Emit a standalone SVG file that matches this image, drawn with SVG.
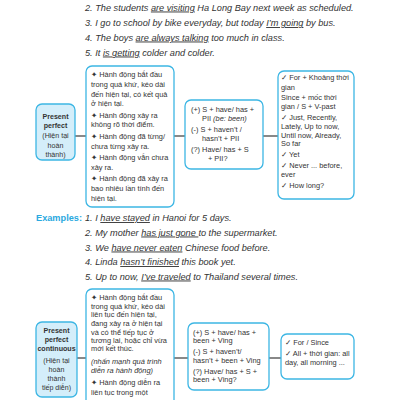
<svg xmlns="http://www.w3.org/2000/svg" width="400" height="400" viewBox="0 0 400 400">
<style>
.bg{fill:#ffffff}
.box{fill:#ffffff;stroke:#3cb6e4;stroke-width:1.3}
.lbl{fill:#d4eefa;stroke:#3cb6e4;stroke-width:1.3}
.t{font-family:"Liberation Sans","DejaVu Sans",sans-serif;font-size:7.4px;fill:#333}
.tc{font-family:"Liberation Sans","DejaVu Sans",sans-serif;font-size:7.1px;fill:#333;text-anchor:middle}
.b{font-weight:bold}
.i{font-style:italic}
.ex{font-family:"Liberation Sans","DejaVu Sans",sans-serif;font-size:9.2px;font-style:italic;fill:#333}
.u{text-decoration:underline}
.exl{font-family:"Liberation Sans","DejaVu Sans",sans-serif;font-size:9.2px;font-weight:bold;fill:#2aa9e0}
.con{stroke:#555;stroke-width:1.4;fill:none}
</style>
<rect class="bg" x="0" y="0" width="400" height="400"/>

<g id="examples-top">
<text class="ex" x="85" y="10.5">2. The students <tspan class="u">are visiting</tspan> Ha Long Bay next week as scheduled.</text>
<text class="ex" x="85" y="26">3. I go to school by bike everyday, but today <tspan class="u">I’m going</tspan> by bus.</text>
<text class="ex" x="85" y="40.5">4. The boys <tspan class="u">are always talking</tspan> too much in class.</text>
<text class="ex" x="85" y="55.5">5. It <tspan class="u">is getting</tspan> colder and colder.</text>
</g>

<g id="connectors">
<line class="con" x1="75" y1="136" x2="86" y2="136"/>
<line class="con" x1="174" y1="136" x2="185" y2="136"/>
<line class="con" x1="263" y1="136" x2="278" y2="136"/>
<line class="con" x1="77" y1="358" x2="86" y2="358"/>
<line class="con" x1="174" y1="358" x2="188" y2="358"/>
<line class="con" x1="269" y1="358" x2="281" y2="358"/>
</g>

<g id="pp-label">
<rect class="lbl" x="36" y="104" width="39" height="56" rx="6"/>
<text class="tc b" x="55.5" y="118.5">Present</text>
<text class="tc b" x="55.5" y="127.5">perfect</text>
<text class="tc" x="55.5" y="137.5">(Hiện tại</text>
<text class="tc" x="55.5" y="147.5">hoàn</text>
<text class="tc" x="55.5" y="156.5">thành)</text>
</g>

<g id="pp-use">
<rect class="box" x="86" y="66" width="88" height="141" rx="6"/>
<text class="t" x="91">
<tspan x="91" y="76.5">✦ Hành động bắt đầu</tspan>
<tspan x="91" y="86.5">trong quá khứ, kéo dài</tspan>
<tspan x="91" y="96.5">đến hiện tại, có kết quả</tspan>
<tspan x="91" y="105.5">ở hiện tại.</tspan>
<tspan x="91" y="117.5">✦ Hành động xảy ra</tspan>
<tspan x="91" y="126.5">không rõ thời điểm.</tspan>
<tspan x="91" y="138.5">✦ Hành động đã từng/</tspan>
<tspan x="91" y="148.5">chưa từng xảy ra.</tspan>
<tspan x="91" y="159.5">✦ Hành động vẫn chưa</tspan>
<tspan x="91" y="169.5">xảy ra.</tspan>
<tspan x="91" y="180.5">✦ Hành động đã xảy ra</tspan>
<tspan x="91" y="190.5">bao nhiêu lần tính đến</tspan>
<tspan x="91" y="200.5">hiện tại.</tspan>
</text>
</g>

<g id="pp-form">
<rect class="box" x="185" y="100" width="78" height="69" rx="6"/>
<text class="t">
<tspan x="191" y="111.5">(+) S + have/ has +</tspan>
<tspan x="202" y="120.5">PII <tspan class="i">(be: been)</tspan></tspan>
<tspan x="191" y="131.5">(-) S + haven’t /</tspan>
<tspan x="202" y="140.5">hasn’t + PII</tspan>
<tspan x="191" y="151.5">(?) Have/ has + S</tspan>
<tspan x="208" y="160.5">+ PII?</tspan>
</text>
</g>

<g id="pp-signal">
<rect class="box" x="278" y="71" width="76" height="128" rx="6"/>
<text class="t">
<tspan x="281" y="79.5">✓ For + Khoảng thời</tspan>
<tspan x="281" y="89.5">gian</tspan>
<tspan x="281" y="99.5">Since + mốc thời</tspan>
<tspan x="281" y="108.5">gian / S + V-past</tspan>
<tspan x="281" y="119.5">✓ Just, Recently,</tspan>
<tspan x="281" y="128.5">Lately, Up to now,</tspan>
<tspan x="281" y="137.5">Until now, Already,</tspan>
<tspan x="281" y="146">So far</tspan>
<tspan x="281" y="156.5">✓ Yet</tspan>
<tspan x="281" y="167.5">✓ Never ... before,</tspan>
<tspan x="281" y="176.5">ever</tspan>
<tspan x="281" y="187.5">✓ How long?</tspan>
</text>
</g>

<g id="examples-pp">
<text class="exl" x="36" y="221">Examples:</text>
<text class="ex" x="85" y="221">1. I <tspan class="u">have stayed</tspan> in Hanoi for 5 days.</text>
<text class="ex" x="85" y="235.5">2. My mother <tspan class="u">has just gone </tspan>to the supermarket.</text>
<text class="ex" x="85" y="250.5">3. We <tspan class="u">have never eaten</tspan> Chinese food before.</text>
<text class="ex" x="85" y="265">4. Linda <tspan class="u">hasn’t finished</tspan> this book yet.</text>
<text class="ex" x="85" y="279.5">5. Up to now, <tspan class="u">I’ve traveled</tspan> to Thailand several times.</text>
</g>

<g id="ppc-label">
<rect class="lbl" x="36" y="322" width="41" height="75" rx="6"/>
<text class="tc b" x="56.5" y="332.5">Present</text>
<text class="tc b" x="56.5" y="341.5">perfect</text>
<text class="tc b" x="56.5" y="350.5">continuous</text>
<text class="tc" x="56.5" y="362.5">(Hiện tại</text>
<text class="tc" x="56.5" y="371.5">hoàn</text>
<text class="tc" x="56.5" y="380.5">thành</text>
<text class="tc" x="56.5" y="389.5">tiếp diễn)</text>
</g>

<g id="ppc-use">
<rect class="box" x="86" y="289" width="88" height="130" rx="6"/>
<text class="t">
<tspan x="91" y="299.5">✦ Hành động bắt đầu</tspan>
<tspan x="91" y="308.5">trong quá khứ, kéo dài</tspan>
<tspan x="91" y="316.5">liên tục đến hiện tại,</tspan>
<tspan x="91" y="325.5">đang xảy ra ở hiện tại</tspan>
<tspan x="91" y="334.5">và có thể tiếp tục ở</tspan>
<tspan x="91" y="342.5">tương lai, hoặc chỉ vừa</tspan>
<tspan x="91" y="350.5">mới kết thúc.</tspan>
<tspan x="91" y="363.5" class="i">(nhấn mạnh quá trình</tspan>
<tspan x="91" y="372.5" class="i">diễn ra hành động)</tspan>
<tspan x="91" y="384.5">✦ Hành động diễn ra</tspan>
<tspan x="91" y="394.5">liên tục trong một</tspan>
</text>
</g>

<g id="ppc-form">
<rect class="box" x="188" y="323" width="81" height="67" rx="6"/>
<text class="t">
<tspan x="193" y="334.5">(+) S + have/ has +</tspan>
<tspan x="193" y="342.5">been + Ving</tspan>
<tspan x="193" y="353.5">(-) S + haven’t/</tspan>
<tspan x="193" y="362.5">hasn’t + been + Ving</tspan>
<tspan x="193" y="373.5">(?) Have/ has + S +</tspan>
<tspan x="193" y="381.5">been + Ving?</tspan>
</text>
</g>

<g id="ppc-signal">
<rect class="box" x="281" y="334" width="73" height="45" rx="6"/>
<text class="t">
<tspan x="285" y="344.5">✓ For / Since</tspan>
<tspan x="285" y="355.5">✓ All + thời gian: all</tspan>
<tspan x="285" y="364.5">day, all morning ...</tspan>
</text>
</g>
</svg>
